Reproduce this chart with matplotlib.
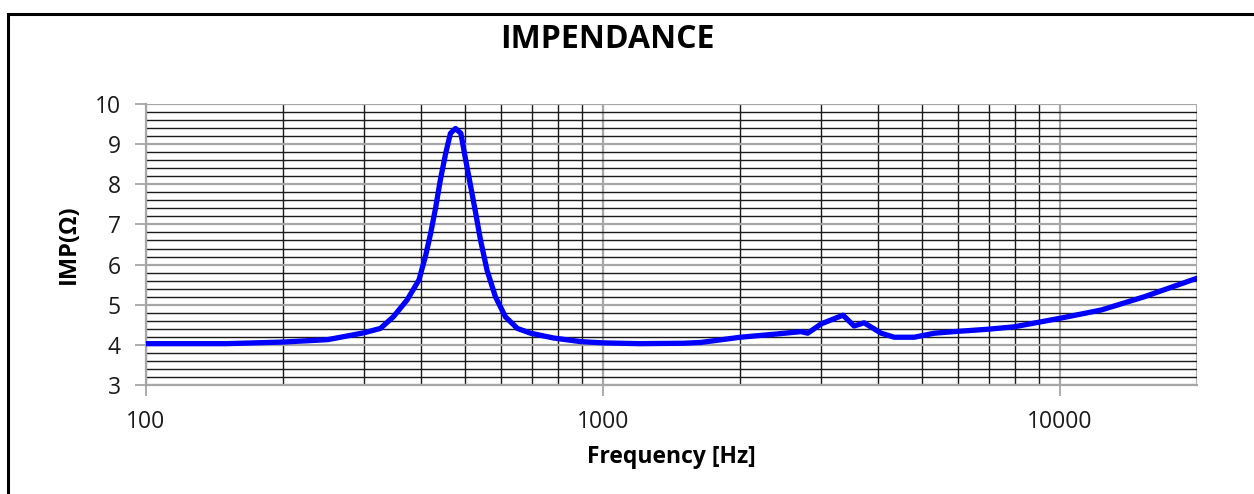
#!/usr/bin/env python3
import matplotlib.pyplot as plt
from matplotlib.patches import Rectangle
from matplotlib.ticker import FixedLocator, NullFormatter, MultipleLocator

# Impedance curve
freq = [100, 150, 200, 250, 300, 326, 348, 373, 396, 409, 420, 431, 441, 453,
        464, 476, 489, 501, 514, 527, 540, 558, 582, 612, 650, 695, 781, 895,
        1000, 1200, 1500, 1640, 2000, 2400, 2717, 2810, 3005, 3357, 3550,
        3734, 4070, 4348, 4808, 5320, 5888, 6985, 7960, 10000, 12360, 15350,
        20000]
imp = [4.03, 4.03, 4.07, 4.13, 4.30, 4.41, 4.70, 5.12, 5.62, 6.20, 6.78,
       7.44, 8.11, 8.77, 9.27, 9.39, 9.27, 8.61, 7.94, 7.28, 6.61, 5.86,
       5.20, 4.70, 4.41, 4.29, 4.17, 4.08, 4.05, 4.03, 4.04, 4.06, 4.19,
       4.27, 4.33, 4.29, 4.52, 4.74, 4.47, 4.55, 4.29, 4.19, 4.19, 4.29,
       4.33, 4.39, 4.45, 4.66, 4.87, 5.20, 5.66]

x_labels = ['100', '1000', '10000']
x_major = [100, 1000, 10000]
x_minor = [m * d for d in (100, 1000, 10000) for m in range(2, 10)] + [20000]

FONT = ['Open Sans', 'DejaVu Sans']


def main():
    plt.rcParams['font.family'] = FONT
    fig = plt.figure(figsize=(12.54, 4.94), dpi=100)
    ax = fig.add_axes([146 / 1254, 1 - 385 / 494, (1197 - 146) / 1254, (385 - 104) / 494])

    ax.plot(freq, imp, color='#0000ff', lw=3.8, solid_capstyle='round',
            solid_joinstyle='round', zorder=5)

    ax.set_xscale('log')
    ax.set_xlim(100, 20000)
    ax.set_ylim(3, 10)

    ax.xaxis.set_major_locator(FixedLocator(x_major))
    ax.set_xticklabels(x_labels)
    ax.xaxis.set_minor_locator(FixedLocator([v for v in x_minor if v <= 20000]))
    ax.xaxis.set_minor_formatter(NullFormatter())
    ax.yaxis.set_major_locator(MultipleLocator(1))
    ax.yaxis.set_minor_locator(MultipleLocator(0.2))

    ax.grid(which='major', color='#a6a6a6', lw=1.6)
    ax.grid(which='minor', color='#1a1a1a', lw=1.0)
    ax.set_axisbelow(True)

    for s in ('top', 'right'):
        ax.spines[s].set_visible(False)
    for s in ('left', 'bottom'):
        ax.spines[s].set_color('#a6a6a6')
        ax.spines[s].set_linewidth(1.6)

    ax.tick_params(which='major', length=8, width=1.3, color='#a6a6a6',
                   labelsize=16.5, labelcolor='#1a1a1a')
    ax.tick_params(axis='y', which='major', pad=10)
    ax.tick_params(axis='x', which='major', pad=10)
    ax.tick_params(which='minor', length=0)

    ax.set_xlabel('Frequency [Hz]', fontsize=16.5, fontweight='bold', labelpad=8)
    ax.set_ylabel('IMP(Ω)', fontsize=17, fontweight='bold', labelpad=10)
    fig.text(607 / 1254, 1 - 40 / 494, 'IMPENDANCE', ha='center', va='center',
             fontsize=23, fontweight='bold')

    # outer chart border
    fig.patches.append(Rectangle((8 / 1254, -0.1), 1.2, 1.1 - 14 / 494,
                                 transform=fig.transFigure, fill=False,
                                 edgecolor='black', lw=2.2))

    fig.savefig('out.png', dpi=100)


if __name__ == '__main__':
    main()
